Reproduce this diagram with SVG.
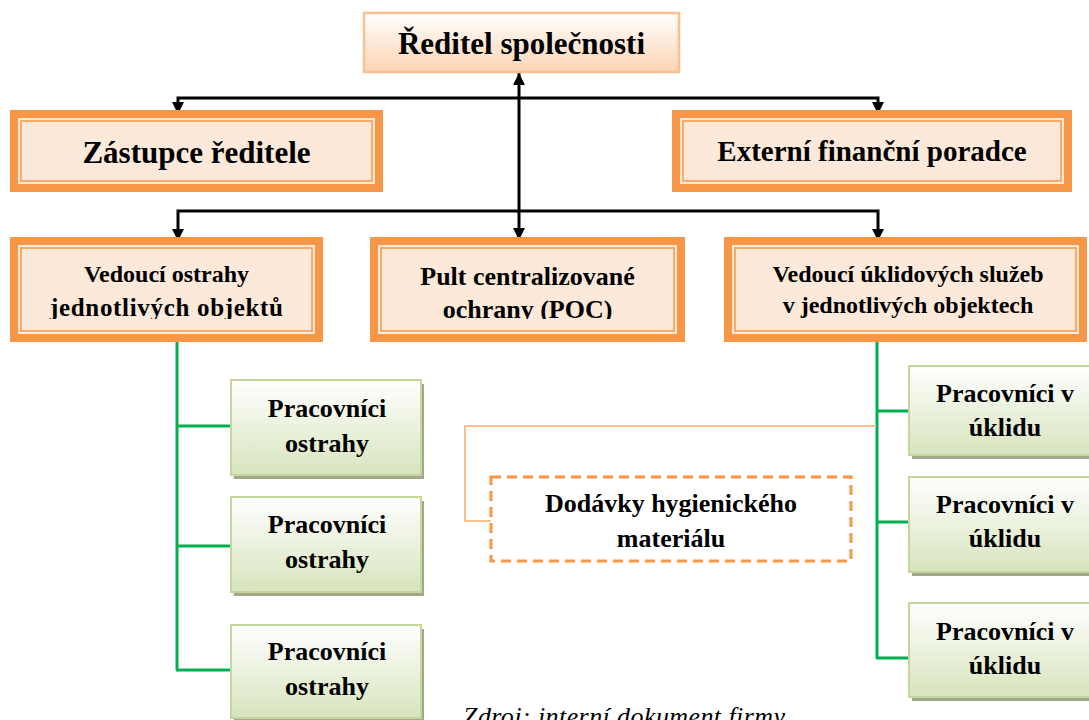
<svg xmlns="http://www.w3.org/2000/svg" width="1089" height="720" viewBox="0 0 1089 720">
<defs>
<linearGradient id="gTop" x1="0" y1="0" x2="0" y2="1">
<stop offset="0" stop-color="#ffffff"/><stop offset="1" stop-color="#fbd4b4"/>
</linearGradient>
<linearGradient id="gGreen" x1="0" y1="0" x2="0" y2="1">
<stop offset="0" stop-color="#ffffff"/><stop offset="1" stop-color="#d7e4bd"/>
</linearGradient>
<marker id="ah" markerUnits="userSpaceOnUse" markerWidth="14" markerHeight="14" refX="12" refY="6" orient="auto-start-reverse">
<path d="M0,0 L12,6 L0,12 z" fill="#000"/>
</marker>
<clipPath id="cut"><rect x="0" y="0" width="1089" height="319"/></clipPath>
<style>
.t{font-family:"Liberation Serif","Times New Roman",serif;font-weight:bold;fill:#000;text-anchor:middle}
.outer{fill:#f79646}
.inner{fill:#fde9d9;stroke:#fde9d9;stroke-width:0}
.line{fill:none;stroke:#f79646;stroke-width:1.5}
.gbox{fill:url(#gGreen);stroke:#c4d79b;stroke-width:2}
.shadow{fill:#a3a88c}
.arr{fill:none;stroke:#000;stroke-width:3;marker-start:url(#ah);marker-end:url(#ah)}
.grn{fill:none;stroke:#00b050;stroke-width:3}
</style>
</defs>
<rect width="1089" height="720" fill="#ffffff"/>

<g id="connectors">
<path class="arr" d="M519,73 L519,240"/>
<path class="arr" d="M178,114 L178,98 L878,98 L878,114"/>
<path class="arr" d="M178,241 L178,211 L878,211 L878,241"/>
<path class="grn" d="M177,337 L177,670 M177,426 L231,426 M177,546 L231,546 M176,670 L231,670"/>
<path class="grn" d="M877,337 L877,658 M877,411 L909,411 M877,522 L909,522 M876,658 L909,658"/>
<path d="M876,426 L465,426 L465,521 L491,521" fill="none" stroke="#fac090" stroke-width="2"/>
</g>

<g id="reditel">
<rect x="364" y="13" width="315" height="59" fill="url(#gTop)" stroke="#fac090" stroke-width="2.5"/>
<text class="t" x="521.5" y="54" font-size="31">Ředitel společnosti</text>
</g>

<g id="zastupce">
<rect class="outer" x="10" y="110" width="373" height="82"/>
<rect class="inner" x="18" y="118" width="357" height="66"/>
<rect class="line" x="21" y="121" width="351" height="60"/>
<text class="t" x="196.5" y="163" font-size="31">Zástupce ředitele</text>
</g>

<g id="externi">
<rect class="outer" x="672" y="110" width="400" height="82"/>
<rect class="inner" x="680" y="118" width="384" height="66"/>
<rect class="line" x="683" y="121" width="378" height="60"/>
<text class="t" x="872" y="161" font-size="29">Externí finanční poradce</text>
</g>

<g id="vedouci-ostrahy">
<rect class="outer" x="10" y="237" width="313" height="105"/>
<rect class="inner" x="18" y="245" width="297" height="89"/>
<rect class="line" x="21" y="248" width="291" height="83"/>
<g clip-path="url(#cut)">
<text class="t" x="166.5" y="282" font-size="24">Vedoucí ostrahy</text>
<text class="t" x="166.5" y="316" font-size="25" textLength="233">jednotlivých objektů</text>
</g>
</g>

<g id="poc">
<rect class="outer" x="370" y="237" width="315" height="105"/>
<rect class="inner" x="378" y="245" width="299" height="89"/>
<rect class="line" x="381" y="248" width="293" height="83"/>
<g clip-path="url(#cut)">
<text class="t" x="527.5" y="285" font-size="26">Pult centralizované</text>
<text class="t" x="527.5" y="318" font-size="26">ochrany (POC)</text>
</g>
</g>

<g id="vedouci-uklid">
<rect class="outer" x="724" y="237" width="363" height="105"/>
<rect class="inner" x="732" y="245" width="347" height="89"/>
<rect class="line" x="735" y="248" width="341" height="83"/>
<text class="t" x="908" y="282" font-size="24">Vedoucí úklidových služeb</text>
<text class="t" x="908" y="313" font-size="24">v jednotlivých objektech</text>
</g>

<g id="ostraha-1">
<rect class="shadow" x="234" y="384" width="190" height="95"/>
<rect class="gbox" x="231" y="380" width="190" height="95"/>
<text class="t" x="327" y="417" font-size="26">Pracovníci</text>
<text class="t" x="327" y="452" font-size="26">ostrahy</text>
</g>
<g id="ostraha-2">
<rect class="shadow" x="234" y="501" width="190" height="95"/>
<rect class="gbox" x="231" y="497" width="190" height="95"/>
<text class="t" x="327" y="533" font-size="26">Pracovníci</text>
<text class="t" x="327" y="568" font-size="26">ostrahy</text>
</g>
<g id="ostraha-3">
<rect class="shadow" x="234" y="629" width="190" height="95"/>
<rect class="gbox" x="231" y="625" width="190" height="93"/>
<text class="t" x="327" y="660" font-size="26">Pracovníci</text>
<text class="t" x="327" y="695" font-size="26">ostrahy</text>
</g>

<g id="uklid-1">
<rect class="shadow" x="912" y="370" width="192" height="89"/>
<rect class="gbox" x="909" y="366" width="192" height="89"/>
<text class="t" x="1005" y="402" font-size="26">Pracovníci v</text>
<text class="t" x="1005" y="436" font-size="26">úklidu</text>
</g>
<g id="uklid-2">
<rect class="shadow" x="912" y="481" width="192" height="95"/>
<rect class="gbox" x="909" y="477" width="192" height="95"/>
<text class="t" x="1005" y="513" font-size="26">Pracovníci v</text>
<text class="t" x="1005" y="547" font-size="26">úklidu</text>
</g>
<g id="uklid-3">
<rect class="shadow" x="912" y="607" width="192" height="94"/>
<rect class="gbox" x="909" y="603" width="192" height="94"/>
<text class="t" x="1005" y="640" font-size="26">Pracovníci v</text>
<text class="t" x="1005" y="674" font-size="26">úklidu</text>
</g>

<g id="dodavky">
<rect x="491" y="477" width="360" height="84" fill="#ffffff" stroke="#f79646" stroke-width="3" stroke-dasharray="10 6"/>
<text class="t" x="671" y="512" font-size="26">Dodávky hygienického</text>
<text class="t" x="671" y="547" font-size="26">materiálu</text>
</g>

<text x="463" y="725" font-family="'Liberation Serif','Times New Roman',serif" font-style="italic" font-size="26" textLength="322" fill="#000">Zdroj: interní dokument firmy</text>
</svg>
